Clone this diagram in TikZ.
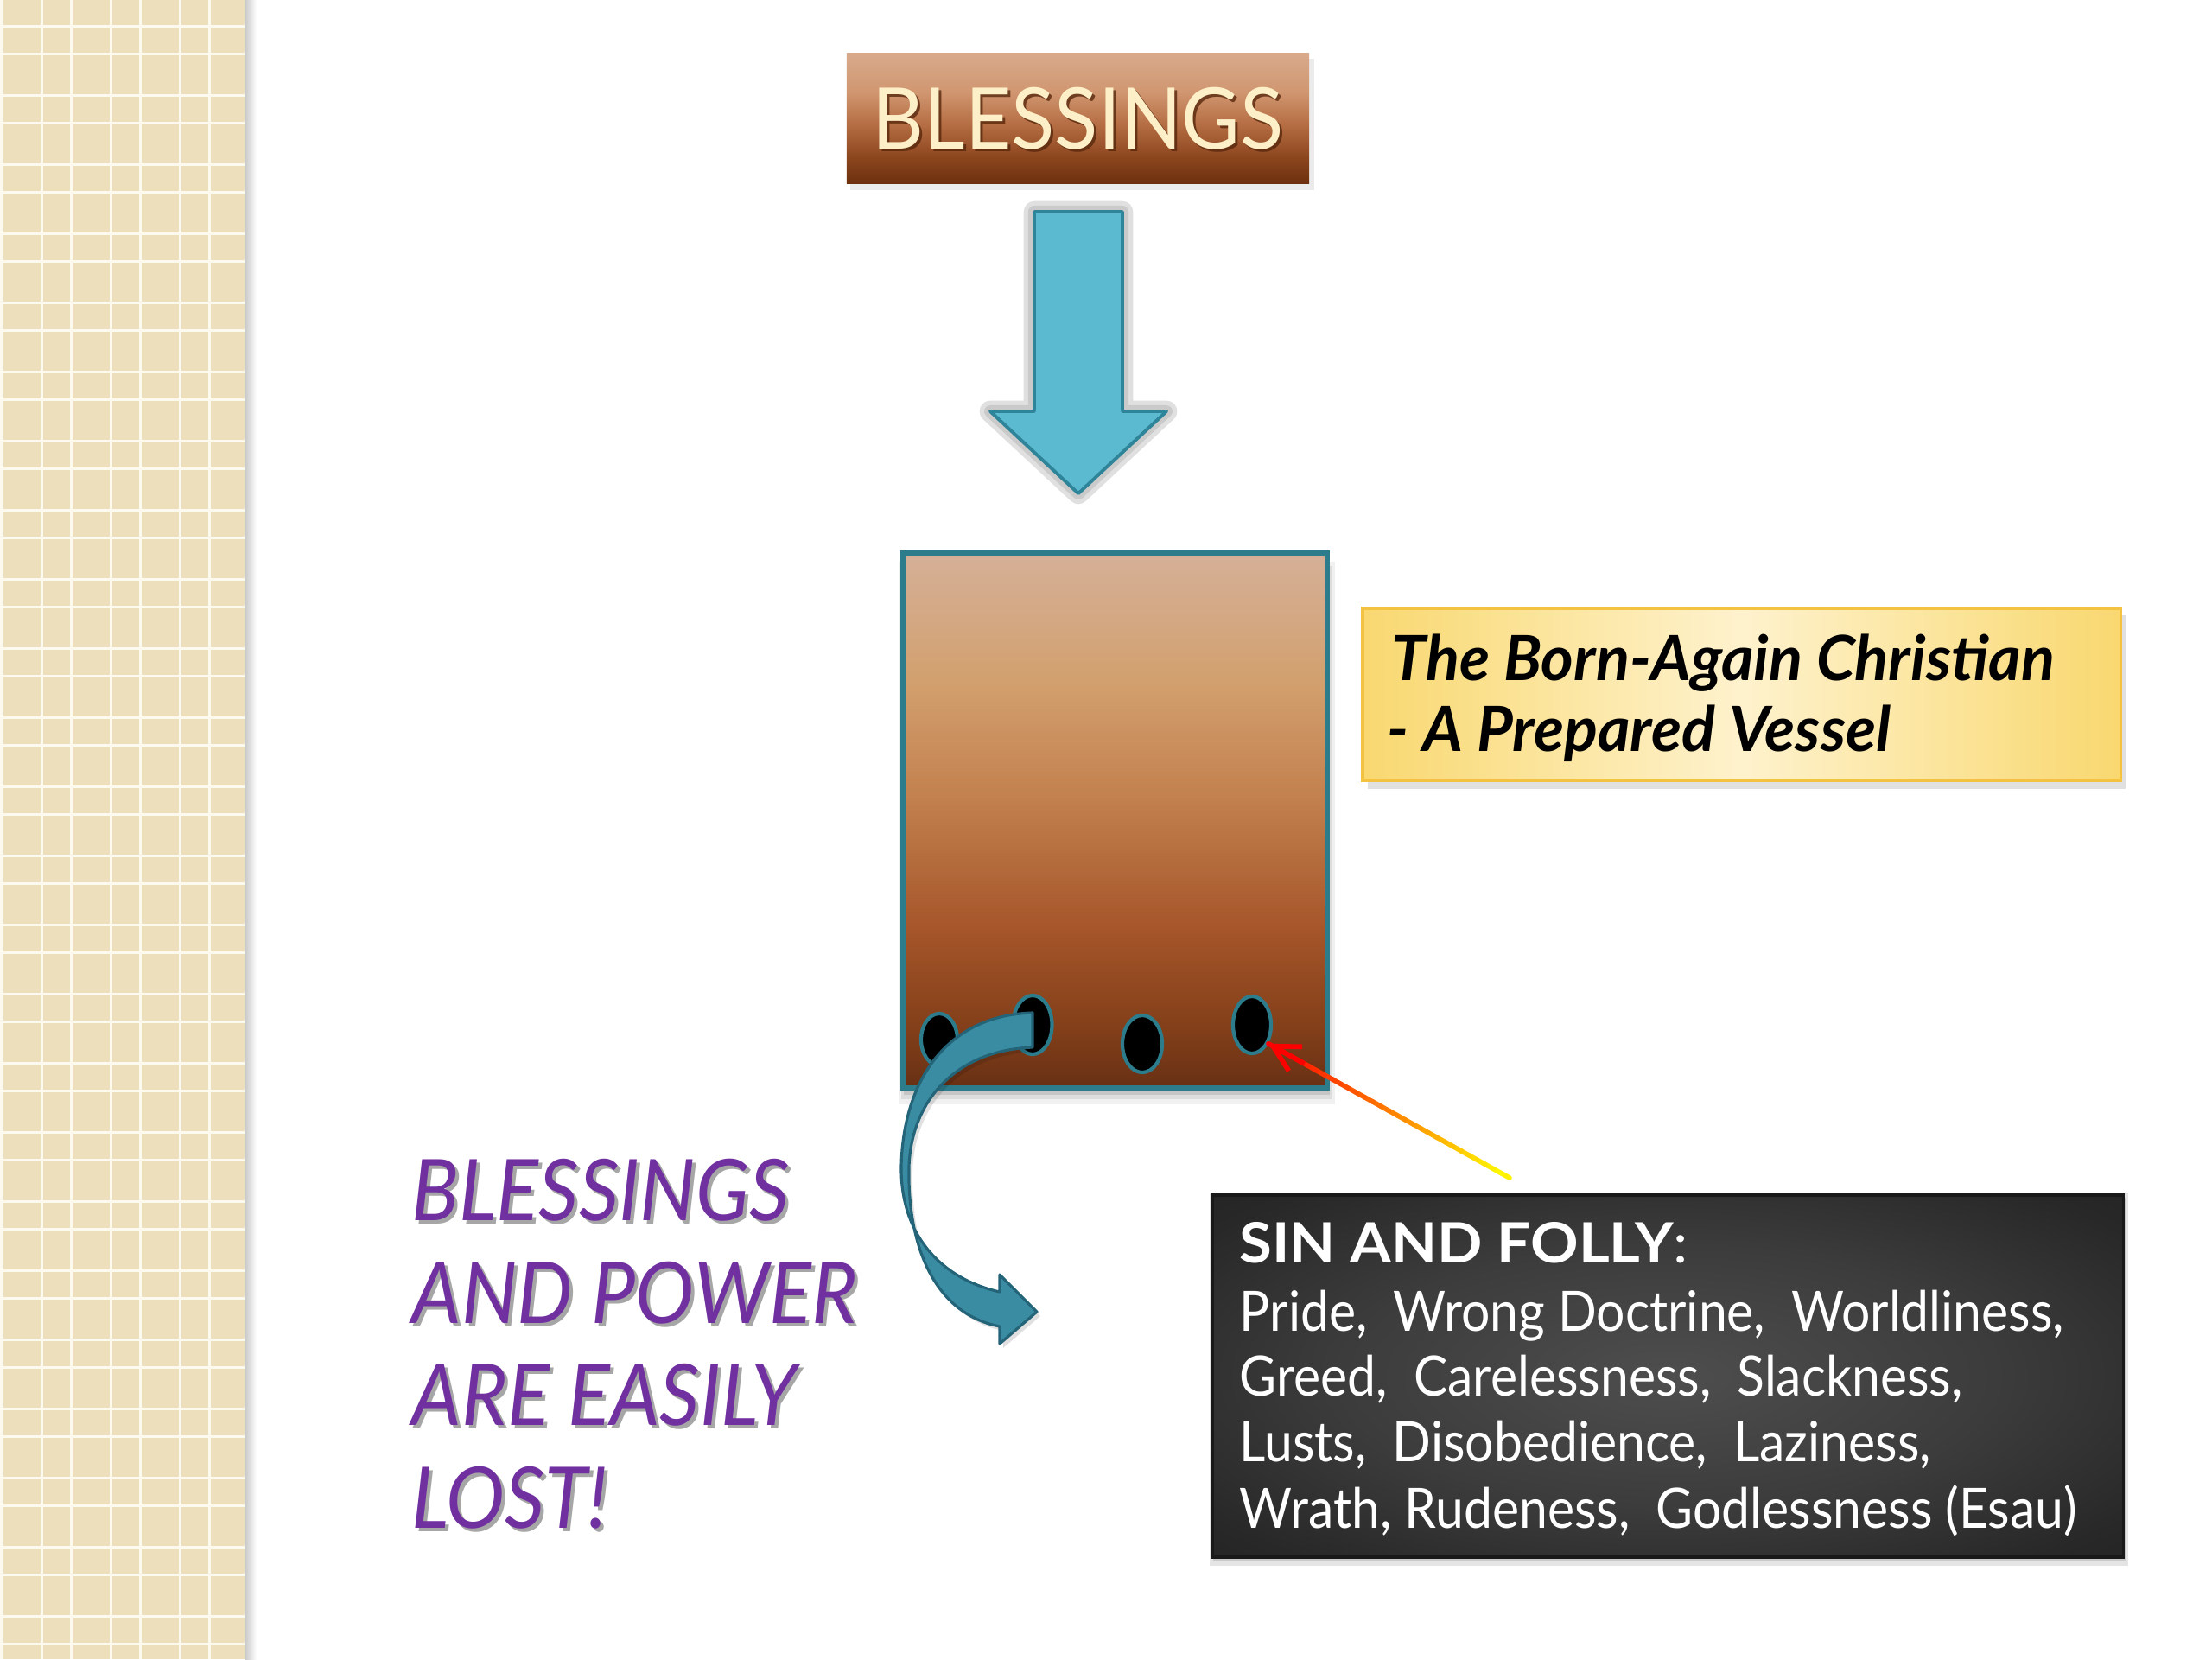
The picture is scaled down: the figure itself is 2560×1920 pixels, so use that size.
\documentclass[tikz,border=0pt]{standalone}
\usepackage{fontspec}
\setmainfont{Lato}
\usetikzlibrary{shapes.geometric,arrows.meta,calc}
\definecolor{pattan}{RGB}{237,223,188}
\definecolor{patline}{RGB}{252,249,238}
\definecolor{cream}{RGB}{253,240,200}
\definecolor{arrfill}{RGB}{92,186,208}
\definecolor{arrline}{RGB}{46,132,152}
\definecolor{vline}{RGB}{44,124,140}
\definecolor{ribfill}{RGB}{58,140,162}
\definecolor{ribline}{RGB}{36,100,120}
\definecolor{yedge}{RGB}{249,216,112}
\definecolor{ymid}{RGB}{254,242,205}
\definecolor{yline}{RGB}{243,194,64}
\definecolor{purp}{RGB}{112,48,160}
\definecolor{blbot}{RGB}{110,50,16}
% vertical shadings (25bp = bottom of the shape, 75bp = top)
\pgfdeclareverticalshading{vesselshade}{100bp}{%
  color(0bp)=(rgb,255:red,104;green,48;blue,20);
  color(25bp)=(rgb,255:red,104;green,48;blue,20);
  color(31bp)=(rgb,255:red,132;green,64;blue,26);
  color(40bp)=(rgb,255:red,166;green,86;blue,42);
  color(52bp)=(rgb,255:red,194;green,128;blue,78);
  color(63bp)=(rgb,255:red,210;green,160;blue,110);
  color(75bp)=(rgb,255:red,213;green,176;blue,152);
  color(100bp)=(rgb,255:red,213;green,176;blue,152)}
\pgfdeclareverticalshading{blessshade}{100bp}{%
  color(0bp)=(rgb,255:red,108;green,48;blue,14);
  color(25bp)=(rgb,255:red,108;green,48;blue,14);
  color(35bp)=(rgb,255:red,140;green,70;blue,30);
  color(48bp)=(rgb,255:red,182;green,110;blue,68);
  color(60bp)=(rgb,255:red,208;green,150;blue,112);
  color(75bp)=(rgb,255:red,216;green,170;blue,140);
  color(100bp)=(rgb,255:red,216;green,170;blue,140)}
\pgfdeclareradialshading{sinshade}{\pgfpoint{0bp}{0bp}}{%
  color(0bp)=(rgb,255:red,78;green,78;blue,78);
  color(18bp)=(rgb,255:red,60;green,60;blue,60);
  color(32bp)=(rgb,255:red,40;green,40;blue,40);
  color(50bp)=(rgb,255:red,24;green,24;blue,24)}
\tikzset{
  hole/.style={ellipse, draw=vline, line width=1.2pt, fill=black, inner sep=0pt},
  blesstext/.style={font=\fontsize{28}{30}\selectfont, inner sep=0pt},
  ytext/.style={font=\bfseries\itshape\fontsize{20.5}{24}\selectfont, inner sep=0pt, anchor=base west},
  sintext/.style={font=\fontsize{18.3}{22}\selectfont, text=white, inner sep=0pt, anchor=base west},
  ptext/.style={font=\itshape\fontsize{28}{32}\selectfont, inner sep=0pt, anchor=base west},
}
\newcommand{\narrow}[2]{\scalebox{#1}[1]{#2}}
\begin{document}
\begin{tikzpicture}[x=0.01cm,y=0.01cm]
\fill[white] (0,0) rectangle (2560,-1920);
\useasboundingbox (0,0) rectangle (2560,-1920);
% left patterned strip
\fill[pattan] (0,0) rectangle (283,-1920);
\shade[left color=black!22, right color=white] (283,0) rectangle (297,-1920);
\foreach \x in {2,48,82,128,162,208,242}
  \fill[patline] ({\x-1.5},0) rectangle ({\x+1.5},-1920);
\foreach \k in {0,...,23} {
  \fill[patline] (0,{-30-80*\k+1.5}) rectangle (283,{-30-80*\k-1.5});
  \fill[patline] (0,{-62-80*\k+1.5}) rectangle (283,{-62-80*\k-1.5});
}
% BLESSINGS box
\fill[black, opacity=0.08] (984,-68) rectangle (1521,-220);
\node[shading=blessshade, minimum width=5.35cm, minimum height=1.5cm, inner sep=0pt] (bless) at (1247.5,-137) {};
\node[blesstext, text=blbot!80!black, opacity=0.8] (blessshadow) at (1250.5,-140) {\narrow{0.94}{BLESSINGS}};
\node[blesstext, text=cream] (blesstxt) at (1247.5,-137) {\narrow{0.94}{BLESSINGS}};
% down block arrow
\draw[black!40, opacity=0.3, line width=7pt, line join=round]
  (1197,-245) -- (1299,-245) -- (1299,-476) -- (1350,-476) -- (1248,-571) -- (1146,-476) -- (1197,-476) -- cycle;
\draw[black!40, opacity=0.3, line width=4pt, line join=round]
  (1197,-245) -- (1299,-245) -- (1299,-476) -- (1350,-476) -- (1248,-571) -- (1146,-476) -- (1197,-476) -- cycle;
\draw[fill=arrfill, draw=arrline, line width=1.1pt, line join=round]
  (1197,-245) -- (1299,-245) -- (1299,-476) -- (1350,-476) -- (1248,-571) -- (1146,-476) -- (1197,-476) -- cycle;
% vessel
\fill[black, opacity=0.06] (1040,-650) rectangle (1545,-1278);
\fill[black, opacity=0.08] (1043,-655) rectangle (1542,-1272);
\fill[black, opacity=0.10] (1046,-660) rectangle (1539,-1267);
\node[shading=vesselshade, draw=vline, line width=1.7pt,
      minimum width=4.91cm, minimum height=6.19cm, inner sep=0pt] (vessel) at (1290.5,-949.5) {};
% holes
\node[hole, minimum width=0.42cm, minimum height=0.60cm] (hole1) at (1087,-1203) {};
\node[hole, minimum width=0.45cm, minimum height=0.68cm] (hole2) at (1195,-1186) {};
\node[hole, minimum width=0.46cm, minimum height=0.66cm] (hole3) at (1322,-1208) {};
\node[hole, minimum width=0.44cm, minimum height=0.66cm] (hole4) at (1449,-1186) {};
% curved ribbon arrow leaving through hole 2
\fill[black, opacity=0.12]
  (1199,-1177) .. controls (1100,-1180) and (1049,-1255) .. (1047,-1355)
  .. controls (1046,-1435) and (1094,-1485) .. (1161,-1500)
  -- (1161,-1480) -- (1204,-1523) -- (1161,-1560) -- (1161,-1540)
  .. controls (1084,-1525) and (1054,-1445) .. (1056,-1355)
  .. controls (1059,-1275) and (1114,-1220) .. (1199,-1217) -- cycle;
\draw[fill=ribfill, draw=ribline, line width=0.9pt, line join=round]
  (1195,-1172) .. controls (1096,-1175) and (1045,-1250) .. (1043,-1350)
  .. controls (1042,-1430) and (1090,-1480) .. (1157,-1495)
  -- (1157,-1475) -- (1200,-1518) -- (1157,-1555) -- (1157,-1535)
  .. controls (1080,-1520) and (1050,-1440) .. (1052,-1350)
  .. controls (1055,-1270) and (1110,-1215) .. (1195,-1212) -- cycle;
% yellow label box
\fill[black, opacity=0.12] (1583,-712) rectangle (2460,-913);
\node[shade, left color=yedge, right color=yedge, middle color=ymid, draw=yline, line width=1pt,
      minimum width=8.77cm, minimum height=1.99cm, inner sep=0pt] (ybox) at (2015.5,-803.5) {};
\node[ytext] (yl1) at (1610,-787) {The Born-Again Christian};
\node[ytext] (yl2) at (1605,-869) {- A Prepared Vessel};
% sin box
\fill[black, opacity=0.10] (1400,-1380) rectangle (2463,-1812);
\fill[black, opacity=0.12] (1404,-1386) rectangle (2460,-1806);
\node[shading=sinshade, draw=black!90, line width=1pt,
      minimum width=10.53cm, minimum height=4.19cm, inner sep=0pt] (sinbox) at (1930.5,-1592.5) {};
\node[sintext] (s0) at (1434,-1461) {\narrow{1.07}{\textbf{SIN AND FOLLY}:}};
\node[sintext] (s1) at (1434,-1540) {\narrow{0.915}{Pride,\ \ Wrong Doctrine,\ \ Worldliness,}};
\node[sintext] (s2) at (1434,-1615) {\narrow{0.915}{Greed,\ \ Carelessness,\ \ Slackness,}};
\node[sintext] (s3) at (1434,-1691) {\narrow{0.915}{Lusts,\ \ Disobedience,\ \ Laziness,}};
\node[sintext] (s4) at (1434,-1768) {\narrow{0.915}{Wrath, Rudeness,\ \ Godlessness (Esau)}};
% gradient pointer arrow from the sin box to hole 4
\coordinate (ptail) at (1747,-1363);
\coordinate (ptip) at (hole4.-49);
\foreach \i in {0,...,29} {
  \pgfmathsetmacro\a{\i/30}
  \pgfmathsetmacro\b{(\i+1)/30}
  \pgfmathsetmacro\p{100*\i/29}
  \draw[line width=1.6pt, color=red!\p!yellow, line cap=round] ($(ptail)!\a!(ptip)$) -- ($(ptail)!\b!(ptip)$);
}
\draw[red, line width=1.6pt, -{Straight Barb[length=0.3cm,width=0.32cm]}] ($(ptail)!0.85!(ptip)$) -- (ptip);
% purple message
\foreach \n/\y/\t in {p1/1412/BLESSINGS, p2/1531/AND POWER, p3/1649/ARE EASILY, p4/1768/LOST!} {
  \node[ptext, text=black!35] (\n s) at (480,{-\y-4}) {\narrow{0.925}{\t}};
  \node[ptext, text=purp] (\n) at (476,-\y) {\narrow{0.925}{\t}};
}
\end{tikzpicture}
\end{document}
